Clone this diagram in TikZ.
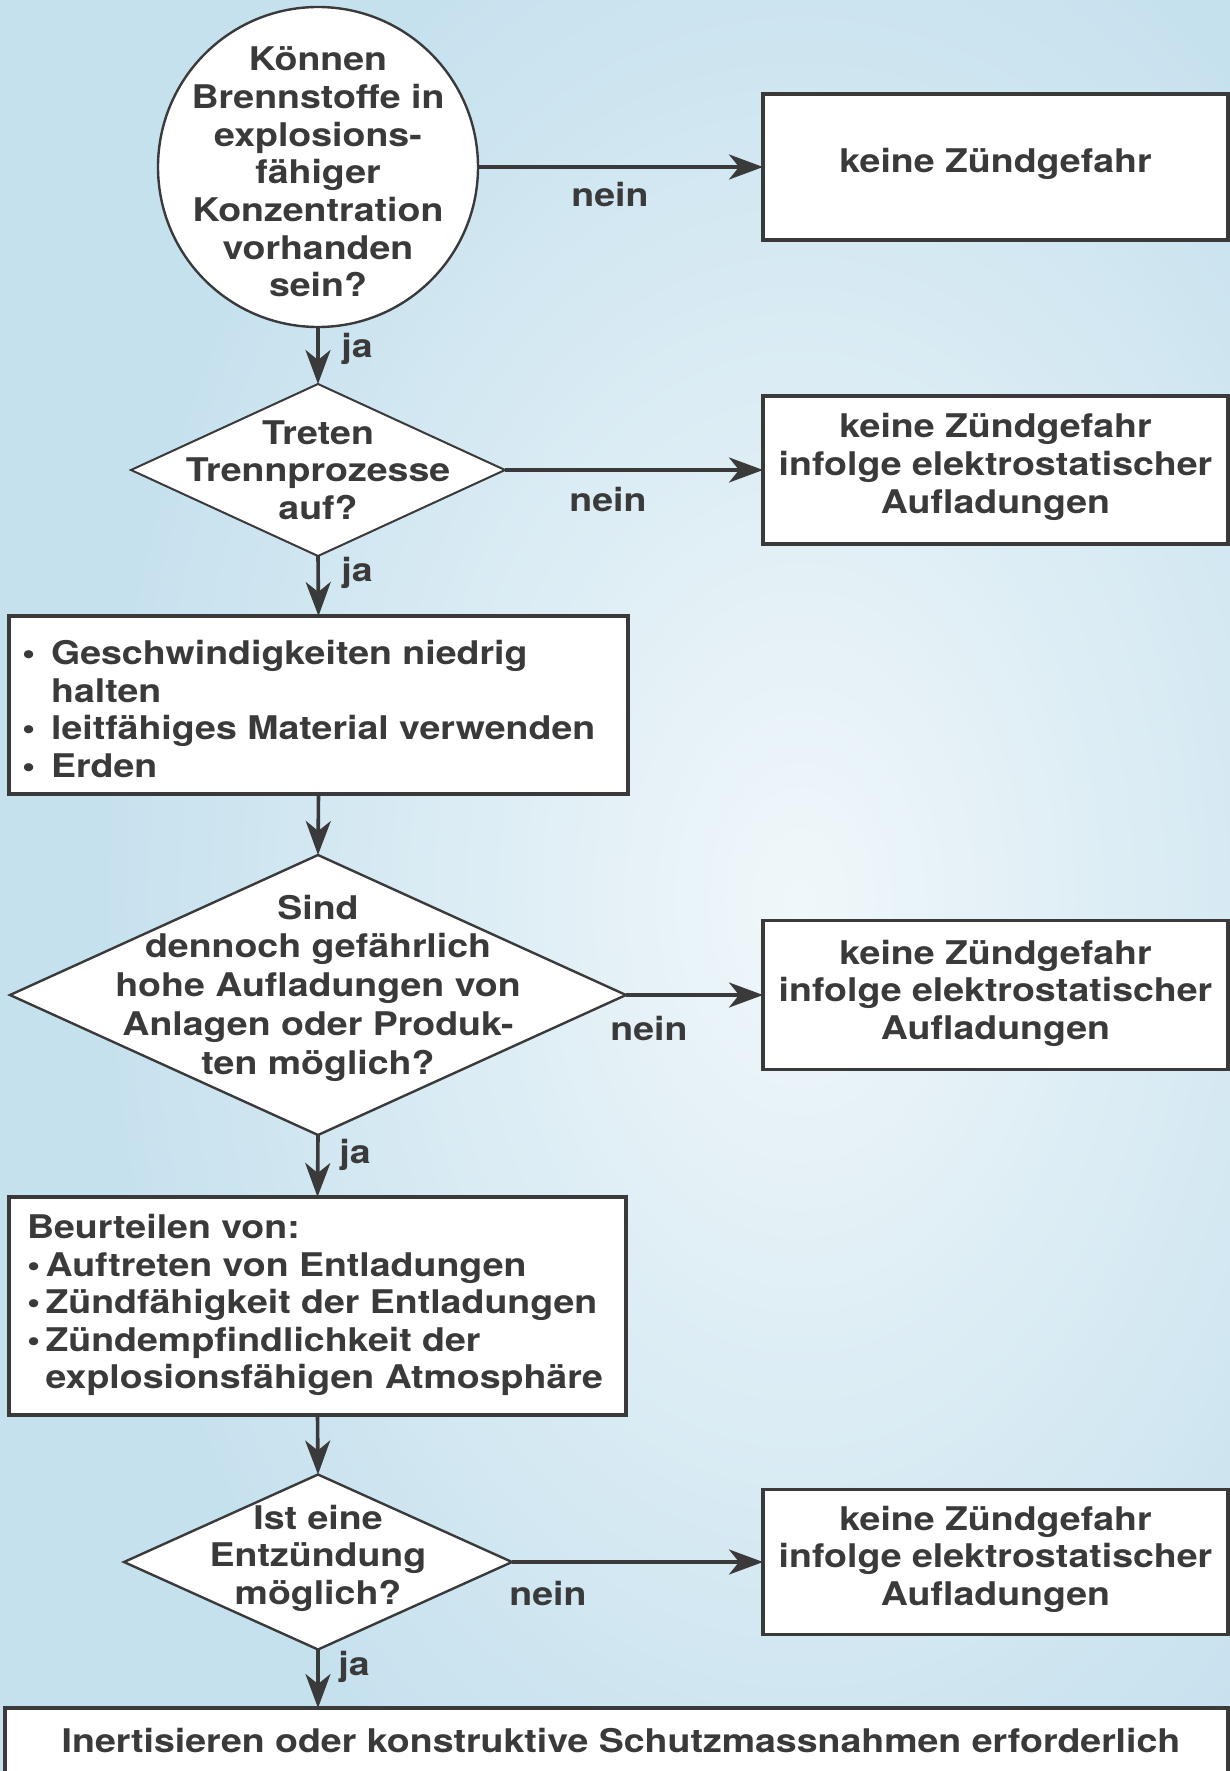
\documentclass[tikz,border=0pt]{standalone}
\usepackage{fontspec}
\setmainfont{TeX Gyre Heros}[FakeStretch=1.15]
\usetikzlibrary{arrows.meta,shapes.geometric}
\definecolor{ink}{HTML}{3A3A3A}
\definecolor{bgout}{HTML}{C6E1EE}
\definecolor{bgin}{HTML}{F0F7FA}
\newcommand\hvfont{\fontsize{16.3}{18.8}\selectfont\bfseries}
\newcommand\hvfontb{\fontsize{16.3}{19.4}\selectfont\bfseries}
\newcommand\bul{\textbullet\hspace{8pt}}
\begin{document}
\begin{tikzpicture}[x=0.5pt,y=-0.5pt,
  every node/.style={inner sep=0pt, outer sep=0pt},
  txt/.style={font=\hvfont, text=ink, align=center},
  boxshape/.style={rectangle, draw=ink, line width=1.6pt, fill=white},
  diashape/.style={diamond, draw=ink, line width=1.2pt, fill=white},
  circshape/.style={circle, draw=ink, line width=1.2pt, fill=white},
  arr/.style={draw=ink, line width=1.8pt, -{Stealth[length=17pt,width=12.5pt,inset=5pt]}},
]
\useasboundingbox (0,0) rectangle (1230,1771);
\fill[bgout] (0,0) rectangle (1230,1771);
\shade[inner color=bgin, outer color=bgout] (100,-150) rectangle (1500,1950);

% shapes
\node[circshape, minimum size=160pt] (c1) at (318,167) {};
\node[txt] (c1t) at (318,172) {Können\\Brennstoffe in\\explosions-\\fähiger\\Konzentration\\vorhanden\\sein?};

\node[boxshape, minimum width=232.5pt, minimum height=73pt] (b1) at (995.5,167) {};
\node[txt] (b1t) at (995.5,164) {keine Zündgefahr};

\node[diashape, line width=1pt, minimum width=187pt, minimum height=86pt] (d1) at (318,470) {};
\node[txt] (d1t) at (318,470) {Treten\\Trennprozesse\\auf?};

\node[boxshape, minimum width=232.5pt, minimum height=74pt] (b2) at (995.5,470) {};
\node[txt] (b2t) at (995.5,467) {keine Zündgefahr\\infolge elektrostatischer\\Aufladungen};

\node[boxshape, minimum width=309.5pt, minimum height=89pt] (b3) at (318.5,705) {};
\node[txt, align=left, anchor=west] (b3t) at (22,709) {\bul Geschwindigkeiten niedrig\\\phantom{\bul}halten\\\bul leitfähiges Material verwenden\\\bul Erden};

\node[diashape, minimum width=308pt, minimum height=140pt] (d2) at (318,995) {};
\node[txt, font=\hvfontb] (d2t) at (318,988) {Sind\\dennoch gefährlich\\hohe Aufladungen von\\Anlagen oder Produk-\\ten möglich?};

\node[boxshape, minimum width=232.5pt, minimum height=74.5pt] (b4) at (995.5,995) {};
\node[txt] (b4t) at (995.5,993) {keine Zündgefahr\\infolge elektrostatischer\\Aufladungen};

\node[boxshape, minimum width=308.5pt, minimum height=109pt] (b5) at (317.5,1306) {};
\node[txt, align=left, anchor=west] (b5t) at (27,1305) {Beurteilen von:\\\textbullet\,Auftreten von Entladungen\\\textbullet\,Zündfähigkeit der Entladungen\\\textbullet\,Zündempfindlichkeit der\\\phantom{\textbullet\,}explosionsfähigen Atmosphäre};

\node[diashape, minimum width=194pt, minimum height=87.5pt] (d3) at (318,1562) {};
\node[txt] (d3t) at (318,1558) {Ist eine\\Entzündung\\möglich?};

\node[boxshape, minimum width=232.5pt, minimum height=72.5pt] (b6) at (995.5,1562) {};
\node[txt] (b6t) at (995.5,1559) {keine Zündgefahr\\infolge elektrostatischer\\Aufladungen};

\node[boxshape, minimum width=611.5pt, minimum height=46pt] (b7) at (616.5,1754) {};
\node[txt] (b7t) at (621,1741) {Inertisieren oder konstruktive Schutzmassnahmen erforderlich};

% connectors
\draw[arr] (c1.east) -- (b1.west);
\draw[arr] (c1.south) -- (d1.north);
\draw[arr] (d1.east) -- (b2.west);
\draw[arr] (d1.south) -- (b3.north);
\draw[arr] (b3.south) -- (d2.north);
\draw[arr] (d2.east) -- (b4.west);
\draw[arr] (d2.south) -- (b5.north);
\draw[arr] (b5.south) -- (d3.north);
\draw[arr] (d3.east) -- (b6.west);
\draw[arr] (d3.south) -- (d3.south |- b7.north);

% labels
\node[txt] (n1) at (610,195) {nein};
\node[txt] (n2) at (608,500) {nein};
\node[txt] (n3) at (649,1028) {nein};
\node[txt] (n4) at (548,1593) {nein};
\node[txt] (j1) at (357,349) {ja};
\node[txt] (j2) at (357,573) {ja};
\node[txt] (j3) at (355,1155) {ja};
\node[txt] (j4) at (354,1667) {ja};
\end{tikzpicture}
\end{document}
